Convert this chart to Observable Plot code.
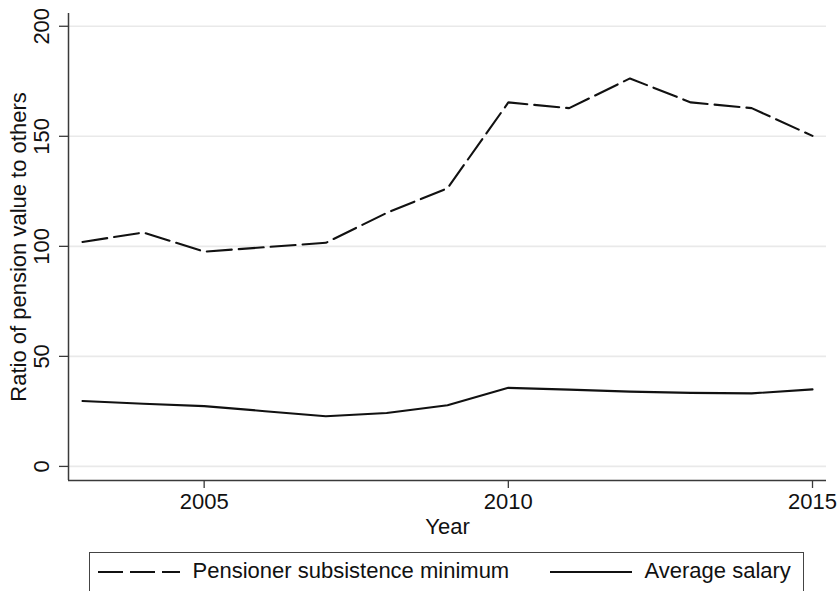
<!DOCTYPE html>
<html>
<head>
<meta charset="utf-8">
<script src="https://cdn.jsdelivr.net/npm/d3@7"></script>
<script src="https://cdn.jsdelivr.net/npm/@observablehq/plot@0.6"></script>
<style>
  html, body { margin: 0; padding: 0; background: #fff; }
  body { width: 839px; height: 591px; overflow: hidden; font-family: "Liberation Sans", Arial, Helvetica, sans-serif; }
  #chart svg { display: block; }
  #legend { position: relative; width: 839px; height: 51px; }
  #legend .box { position: absolute; left: 89px; top: 12px; width: 715px; height: 40px; border: 1.5px solid #444; box-sizing: border-box; }
  #legend .label { position: absolute; font-size: 22px; color: #111; white-space: nowrap; top: 7px; line-height: 22px; }
  #legend svg { position: absolute; }
</style>
</head>
<body>
<div id="chart"></div>
<div id="legend"></div>
<script>
// ---- data ----
const years = [2003, 2004, 2005, 2006, 2007, 2008, 2009, 2010, 2011, 2012, 2013, 2014, 2015];
const pensionerMinimum = [102.0, 106.3, 97.6, 99.6, 101.6, 115.2, 126.4, 165.4, 162.8, 176.3, 165.4, 162.8, 150.2];
const averageSalary = [29.7, 28.5, 27.4, 25.1, 22.8, 24.3, 27.8, 35.7, 34.9, 34.0, 33.4, 33.2, 35.0];
const seriesNames = ["Pensioner subsistence minimum", "Average salary"];
const yTicks = [0, 50, 100, 150, 200];
const xTicks = [2005, 2010, 2015];
const xDomain = [2002.77, 2015.23];
const yDomain = [-6.4, 205.8];
const xLabel = "Year";
const yLabel = "Ratio of pension value to others";

const rows = [];
years.forEach((yr, i) => {
  rows.push({year: yr, value: pensionerMinimum[i], series: seriesNames[0]});
  rows.push({year: yr, value: averageSalary[i], series: seriesNames[1]});
});

const axisColor = "#3a3a3a";
const font = "Liberation Sans, Arial, Helvetica, sans-serif";
const fs = 22;

const plot = Plot.plot({
  width: 839,
  height: 540,
  marginTop: 13,
  marginBottom: 60,
  marginLeft: 68,
  marginRight: 13,
  style: {fontFamily: font, background: "#fff", color: "#111"},
  x: {type: "linear", domain: xDomain, axis: null},
  y: {type: "linear", domain: yDomain, axis: null},
  marks: [
    Plot.gridY(yTicks, {stroke: "#e9e9e9", strokeOpacity: 1, strokeWidth: 1.6}),
    Plot.ruleX([xDomain[0]], {stroke: axisColor, strokeWidth: 1.5}),
    Plot.ruleY([yDomain[0]], {stroke: axisColor, strokeWidth: 1.5}),
    Plot.axisX(xTicks, {
      anchor: "bottom",
      tickSize: 8,
      tickPadding: 5,
      tickFormat: d => String(d),
      fontSize: fs,
      stroke: axisColor,
      strokeWidth: 1.3,
      fill: "#111",
      label: null
    }),
    Plot.axisY(yTicks, {
      anchor: "left",
      tickSize: 9,
      tickFormat: () => "",
      stroke: axisColor,
      strokeWidth: 1.3,
      label: null
    }),
    Plot.text(yTicks, {
      y: d => d,
      x: () => xDomain[0],
      text: d => String(d),
      rotate: -90,
      textAnchor: "middle",
      lineAnchor: "bottom",
      dx: -20,
      fontSize: fs,
      fill: "#111"
    }),
    Plot.text([xLabel], {
      frameAnchor: "bottom",
      lineAnchor: "bottom",
      dy: 53,
      fontSize: fs,
      fill: "#111"
    }),
    Plot.text([yLabel], {
      frameAnchor: "left",
      rotate: -90,
      textAnchor: "middle",
      lineAnchor: "bottom",
      dx: -43,
      fontSize: fs,
      fill: "#111"
    }),
    Plot.line(rows.filter(d => d.series === seriesNames[0]), {
      x: "year", y: "value", stroke: "#111", strokeWidth: 2.1, strokeDasharray: "25,7", strokeLinejoin: "miter"
    }),
    Plot.line(rows.filter(d => d.series === seriesNames[1]), {
      x: "year", y: "value", stroke: "#111", strokeWidth: 2.1
    })
  ]
});

document.getElementById("chart").appendChild(plot);

// ---- legend ----
const legend = d3.select("#legend");
const box = legend.append("div").attr("class", "box");
box.append("svg").attr("width", 85).attr("height", 6).style("left", "7.5px").style("top", "16px")
  .append("line").attr("x1", 0).attr("x2", 82).attr("y1", 3).attr("y2", 3)
  .attr("stroke", "#111").attr("stroke-width", 2.1).attr("stroke-dasharray", "25,7");
box.append("div").attr("class", "label").style("left", "102.5px").text(seriesNames[0]);
box.append("svg").attr("width", 85).attr("height", 6).style("left", "459.5px").style("top", "16px")
  .append("line").attr("x1", 0).attr("x2", 82).attr("y1", 3).attr("y2", 3)
  .attr("stroke", "#111").attr("stroke-width", 2.1);
box.append("div").attr("class", "label").style("left", "554.5px").text(seriesNames[1]);
</script>
</body>
</html>
